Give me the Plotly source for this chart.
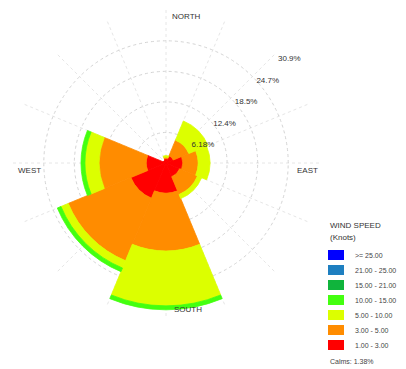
import plotly.graph_objects as go

# Wind directions (8 sectors, 45 degrees wide)
directions = ["N", "NE", "E", "SE", "S", "SW", "W", "NW"]
angles = [0, 45, 90, 135, 180, 225, 270, 315]

# Frequency (%) of each speed class per direction
speed_1_3 = [0.9, 1.6, 3.4, 3.0, 6.1, 7.7, 4.0, 0.6]
speed_3_5 = [0.3, 3.4, 3.1, 3.9, 11.7, 13.7, 9.5, 0.0]
speed_5_10 = [0.3, 4.2, 2.4, 0.9, 11.1, 1.6, 2.9, 0.0]
speed_10_15 = [0.0, 0.0, 0.0, 0.0, 0.8, 0.8, 0.8, 0.0]
speed_15_21 = [0.0] * 8
speed_21_25 = [0.0] * 8
speed_25_up = [0.0] * 8

class_labels = ["1.00 - 3.00", "3.00 - 5.00", "5.00 - 10.00", "10.00 - 15.00",
                "15.00 - 21.00", "21.00 - 25.00", ">= 25.00"]
class_colors = ["#ff0000", "#ff8c00", "#dcff00", "#44ff10",
                "#10b43c", "#1e7fc0", "#0000ff"]
class_values = [speed_1_3, speed_3_5, speed_5_10, speed_10_15,
                speed_15_21, speed_21_25, speed_25_up]

ring_values = [6.18, 12.36, 18.54, 24.72, 30.9]
ring_labels = ["6.18%", "12.4%", "18.5%", "24.7%", "30.9%"]
calms = 1.38

fig = go.Figure()
for vals, col, name in zip(class_values, class_colors, class_labels):
    fig.add_trace(go.Barpolar(
        r=vals, theta=angles, width=[45] * 8, name=name,
        marker=dict(color=col, line=dict(width=0.8, color=col)),
        showlegend=False,
    ))

# Ring percentage labels along the north-east diagonal
fig.add_trace(go.Scatterpolar(
    r=ring_values, theta=[45] * len(ring_values), mode="text",
    text=["\u2002" + t for t in ring_labels], textposition="bottom right",
    textfont=dict(family="Liberation Sans", size=8, color="#333"),
    showlegend=False, cliponaxis=False,
))

W, H = 406, 369
cx, cy, rad = 166, 163, 153
fig.update_layout(
    width=W, height=H,
    margin=dict(l=0, r=0, t=0, b=0),
    paper_bgcolor="white",
    plot_bgcolor="white",
    barmode="stack",
    polar=dict(
        domain=dict(x=[(cx - rad) / W, (cx + rad) / W],
                    y=[(H - cy - rad) / H, (H - cy + rad) / H]),
        bgcolor="white",
        bargap=0,
        radialaxis=dict(range=[0, 30.95], tickvals=ring_values,
                        showticklabels=False, ticks="", showline=False,
                        gridcolor="#d4d4d4", griddash="dot", gridwidth=1),
        angularaxis=dict(rotation=90, direction="clockwise",
                         showticklabels=False, ticks="", showline=False,
                         dtick=22.5, gridcolor="#e6e6e6", griddash="dot",
                         gridwidth=1),
    ),
)

font = dict(family="Liberation Sans", size=8, color="#333")

# Compass labels
compass = [("NORTH", 170, 16, "left"), ("SOUTH", 172, 309, "left"),
           ("WEST", 43, 170, "right"), ("EAST", 295, 170, "left")]
for txt, x, y, anchor in compass:
    fig.add_annotation(x=x / W, y=1 - y / H, xref="paper", yref="paper",
                       text=txt, showarrow=False, xanchor=anchor,
                       yanchor="middle", font=font)

# Legend
lx = 328
small = dict(family="Liberation Sans", size=7, color="#444")
fig.add_annotation(x=lx / W, y=1 - 225 / H, xref="paper", yref="paper",
                   text="WIND SPEED", showarrow=False, xanchor="left",
                   yanchor="middle", font=font)
fig.add_annotation(x=lx / W, y=1 - 238 / H, xref="paper", yref="paper",
                   text="(Knots)", showarrow=False, xanchor="left",
                   yanchor="middle", font=font)
for i, (name, col) in enumerate(zip(class_labels[::-1], class_colors[::-1])):
    yc = 255 + 15 * i
    fig.add_shape(type="rect", xref="paper", yref="paper",
                  x0=lx / W, x1=(lx + 16) / W,
                  y0=1 - (yc + 5) / H, y1=1 - (yc - 5) / H,
                  fillcolor=col, line=dict(width=0))
    fig.add_annotation(x=353 / W, y=1 - yc / H, xref="paper", yref="paper",
                       text=name, showarrow=False, xanchor="left",
                       yanchor="middle", font=small)
fig.add_annotation(x=lx / W, y=1 - 361 / H, xref="paper", yref="paper",
                   text=f"Calms: {calms:.2f}%", showarrow=False, xanchor="left",
                   yanchor="middle", font=small)

fig.write_html("out.html")
